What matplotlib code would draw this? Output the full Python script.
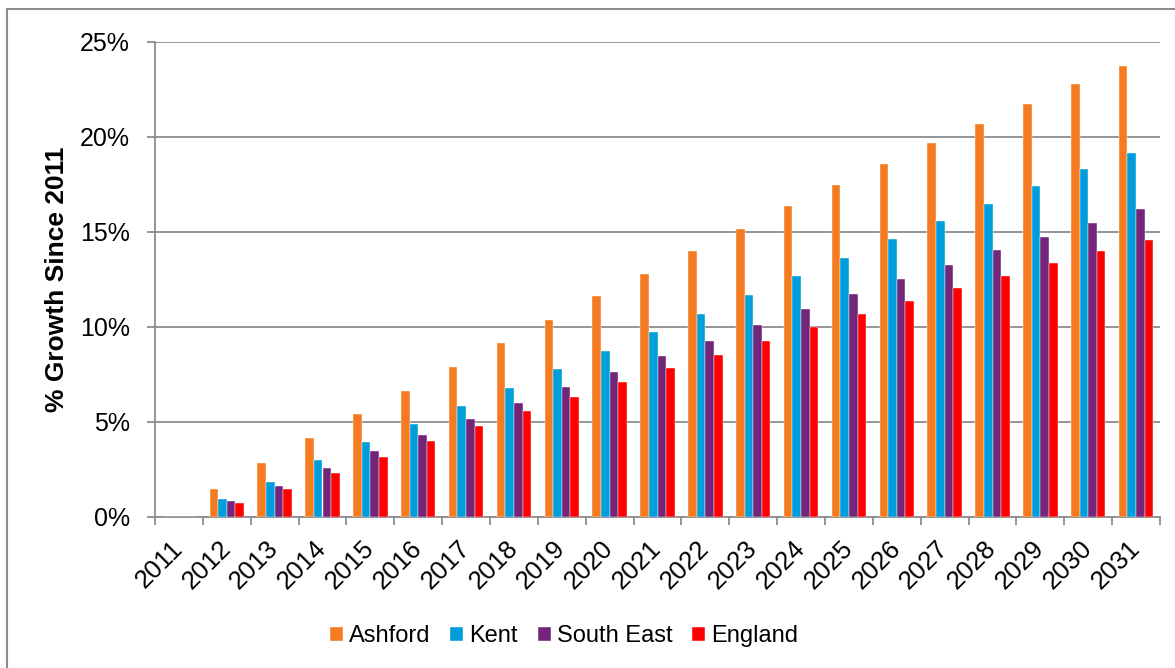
import matplotlib
matplotlib.use("Agg")
import matplotlib.pyplot as plt
import numpy as np
from matplotlib.ticker import FuncFormatter, MultipleLocator
from matplotlib.patches import Rectangle

plt.rcParams['font.family'] = ['Liberation Sans', 'DejaVu Sans']

years = [str(y) for y in range(2011, 2032)]
ashford = [0, 1.46, 2.81, 4.12, 5.40, 6.63, 7.88, 9.12, 10.35, 11.60, 12.79,
           13.98, 15.14, 16.35, 17.46, 18.58, 19.65, 20.68, 21.74, 22.76, 23.72]
kent = [0, 0.93, 1.84, 2.98, 3.91, 4.88, 5.84, 6.79, 7.76, 8.72, 9.70,
        10.68, 11.67, 12.65, 13.63, 14.60, 15.55, 16.46, 17.40, 18.28, 19.16]
south_east = [0, 0.83, 1.62, 2.54, 3.44, 4.30, 5.14, 5.98, 6.83, 7.63, 8.47,
              9.26, 10.09, 10.92, 11.70, 12.49, 13.25, 14.02, 14.74, 15.46, 16.18]
england = [0, 0.72, 1.46, 2.28, 3.16, 3.98, 4.77, 5.56, 6.32, 7.07, 7.81,
           8.53, 9.23, 9.97, 10.67, 11.33, 12.02, 12.68, 13.34, 13.98, 14.56]

series = [("Ashford", ashford, "#F47B20"),
          ("Kent", kent, "#009DDC"),
          ("South East", south_east, "#722579"),
          ("England", england, "#FF0000")]

fig = plt.figure(figsize=(11.75, 6.68), dpi=100)
ax = fig.add_axes([155/1175, 1-516.7/668, (1160-155)/1175, (516.7-41.7)/668])

x = np.arange(len(years))
bw = 0.18
for i, (name, vals, col) in enumerate(series):
    ax.bar(x + (i - 1.5) * bw, vals, width=bw, color=col, label=name,
           edgecolor='white', linewidth=0.3, zorder=3)

ax.set_xlim(-0.5, len(years) - 0.5)
ax.set_ylim(0, 25)
ax.yaxis.set_major_locator(MultipleLocator(5))
ax.yaxis.set_major_formatter(FuncFormatter(lambda v, p: f"{int(v)}%"))
ax.grid(axis='y', color='#8c8c8c', linewidth=1.3, zorder=0)
ax.set_axisbelow(True)

for s in ['top', 'right']:
    ax.spines[s].set_visible(False)
for s in ['left', 'bottom']:
    ax.spines[s].set_color('#8c8c8c')
    ax.spines[s].set_linewidth(1.3)

ax.set_xticks(x)
ax.set_xticklabels(years, rotation=45, ha='right', va='center', rotation_mode='anchor')
ax.tick_params(axis='x', length=0, pad=20, labelsize=18.5)
ax.set_xticks(np.arange(-0.5, len(years)), minor=True)
ax.tick_params(axis='x', which='minor', length=6, width=1.3, color='#8c8c8c')
ax.tick_params(axis='y', length=6, width=1.3, color='#8c8c8c', labelsize=18, pad=12)

ax.set_ylabel("% Growth Since 2011", fontsize=19, fontweight='bold', labelpad=8)

fig.legend(loc='center', bbox_to_anchor=(564/1175, 1-636/668), ncol=4, frameon=False,
           fontsize=17, handlelength=0.55, handleheight=0.55, handletextpad=0.25,
           columnspacing=0.85)

fig.add_artist(Rectangle((7/1175, -0.1), 1.2, 1-9/668 + 0.1, transform=fig.transFigure,
                         fill=False, edgecolor='#8c8c8c', linewidth=1.5))

fig.savefig("out.png", dpi=100)
